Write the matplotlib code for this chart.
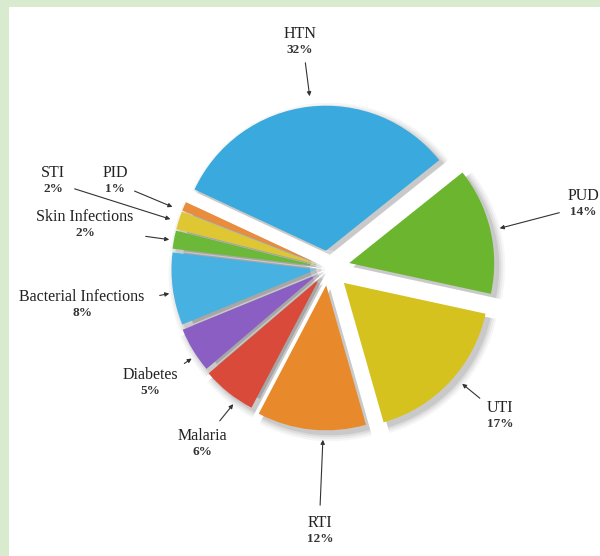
import matplotlib.pyplot as plt
import numpy as np

labels = ['HTN', 'PUD', 'UTI', 'RTI', 'Malaria', 'Diabetes',
          'Bacterial Infections', 'Skin Infections', 'STI', 'PID']
values = [32, 14, 17, 12, 6, 5, 8, 2, 2, 1]
colors = ['#3aa9dd', '#6bb52f', '#d5c21f', '#e88a2b', '#d94a3a',
          '#8a5ec2', '#47b2e2', '#6cb93a', '#dfc734', '#e98c3c']
explode = [0.12, 0.15, 0.15, 0.12, 0.10, 0.09, 0.08, 0.08, 0.08, 0.08]

# label text position, arrow tail, arrow tip (image pixel coords, y down)
label_pos = [(300, 42), (583, 204), (500, 416), (320, 531), (202, 444),
             (150, 383), (82, 305), (85, 225), (53, 181), (115, 181)]
arrow_tail = [(305, 60), (562, 212), (482, 400), (320, 508), (218, 423),
              (182, 365), (157, 296), (143, 236), (72, 188), (132, 190)]
arrow_tip = [(310, 99), (497, 229), (460, 382), (323, 437), (235, 402),
             (194, 357), (172, 293), (172, 240), (173, 220), (175, 208)]

W, H = 600, 556
fig = plt.figure(figsize=(6, 5.56), dpi=100)
fig.patch.set_facecolor('#d9ebcf')
ax = fig.add_axes([9 / W, 0, (W - 9) / W, (H - 7) / H])
ax.set_facecolor('white')

def y(v):
    return H - v

center = (328, y(268))
R = 145
start = 155
expl_px = [e * R for e in explode]   # pie's explode is in data units
big = [True, True, True, True, False, False, False, False, False, False]

# soft shadow under the slices
for k, a in zip([7, 5, 3, 1], [0.05, 0.07, 0.1, 0.15]):
    ax.pie(values, explode=expl_px, colors=['#606060'] * len(values),
           startangle=start, counterclock=False, radius=R + k,
           center=(center[0] + 4, center[1] - 4),
           wedgeprops=dict(alpha=a, linewidth=0), frame=True)

# grey backing that shows in the gaps between the small slices
sh_expl = [e if b else e * 0.3 for e, b in zip(expl_px, big)]
wed, _ = ax.pie(values, explode=sh_expl, colors=['#a6a6a6'] * len(values),
                startangle=start, counterclock=False, radius=R - 2,
                center=(center[0] + 1, center[1] - 1),
                wedgeprops=dict(linewidth=0), frame=True)
for w, b in zip(wed, big):
    if b:
        w.set_visible(False)

ax.pie(values, explode=expl_px, colors=colors, startangle=start,
       counterclock=False, radius=R, center=center,
       wedgeprops=dict(linewidth=0), frame=True)

# white glow at the middle
for r, a in zip([18, 12, 7], [0.25, 0.4, 0.6]):
    ax.add_patch(plt.Circle(center, r, color='white', alpha=a, lw=0, zorder=5))

ax.set_xlim(9, W)
ax.set_ylim(0, H - 7)
ax.set_aspect('equal')
ax.axis('off')
ax.add_patch(plt.Rectangle((9, 0), W, H, color='white', zorder=0))

for lab, v, p, t0, t1 in zip(labels, values, label_pos, arrow_tail, arrow_tip):
    ax.text(p[0], y(p[1]) + 8, lab, ha='center', va='center',
            fontsize=11.5, family='Liberation Serif', color='#222222')
    ax.text(p[0], y(p[1]) - 8, f'{v}%', ha='center', va='center',
            fontsize=9.5, family='Liberation Serif', fontweight='bold', color='#333333')
    ax.annotate('', xy=(t1[0], y(t1[1])), xytext=(t0[0], y(t0[1])),
                arrowprops=dict(arrowstyle='-|>', color='#333333', lw=0.8,
                                mutation_scale=6))

fig.savefig('out.png', dpi=100, facecolor=fig.get_facecolor())
